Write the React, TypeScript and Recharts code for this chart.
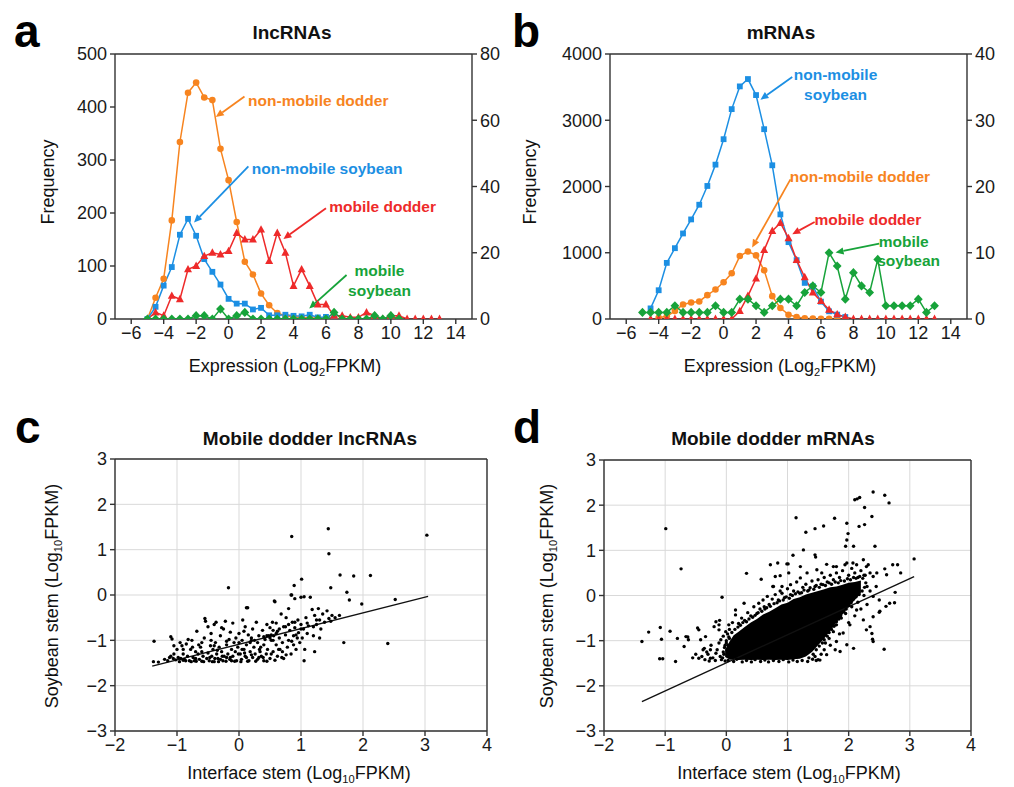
import React from 'react';
import {
  ComposedChart, Line, Scatter, Area, XAxis, YAxis, CartesianGrid, ReferenceLine, ReferenceDot,
} from 'recharts';

const FONT = '"Liberation Sans", Arial, Helvetica, sans-serif';
const ORANGE = '#F7841F';
const BLUE = '#1C8FE3';
const RED = '#EE2A2A';
const GREEN = '#17A33A';
const AXIS = '#333333';

// ---------- Panels a & b : histograms of expression ----------
const xs = [-5, -4.5, -4, -3.5, -3, -2.5, -2, -1.5, -1, -0.5, 0, 0.5, 1, 1.5, 2, 2.5, 3, 3.5, 4, 4.5, 5, 5.5, 6, 6.5, 7, 7.5, 8, 8.5, 9, 9.5, 10, 10.5, 11, 11.5, 12, 12.5, 13];
const xTicksAB = [-6, -4, -2, 0, 2, 4, 6, 8, 10, 12, 14];

// lncRNAs (left axis: non-mobile; right axis: mobile)
const aNonMobileDodder = [0, 40, 76, 186, 334, 427, 446, 418, 413, 321, 262, 183, 108, 84, 48, 26, 11, 6, 4, 3, 2, 2, 1, 2, null, null, null, null, null, null, null, null, null, null, null, null, null];
const aNonMobileSoybean = [0, 23, 63, 98, 159, 189, 157, 113, 89, 65, 38, 29, 29, 18, 21, 7, 7, 8, 6, 5, 8, 3, 4, 2, null, null, null, null, null, null, null, null, null, null, null, null, null];
const aMobileDodder = [0, 2, 1, 7, 6, 15, 16, 19, 20, 19.5, 20.5, 26, 24, 24, 27, 17.5, 26, 20, 10, 15, 10, 4.4, 4.4, 1, 1, 0.5, 0.5, 2, 1, 0, 1, 1, 0, 0, 0, 0, 0];
const aMobileSoybean = [0, 0, 0, 0, 0, 0, 1, 1, 0, 3, 0, 1, 2, 0, 0, 0, 0, 0, 0, 0, 0, 0, 0, 2, 0, 0, 0, 0, 1, 0, 1, 0, null, null, null, null, null];
const aLeftTicks = [0, 100, 200, 300, 400, 500];
const aRightTicks = [0, 20, 40, 60, 80];

// mRNAs
const bNonMobileSoybean = [null, 160, 434, 847, 1069, 1291, 1503, 1725, 2008, 2330, 2714, 3168, 3511, 3622, 3380, 2865, 2320, 1579, 1160, 888, 545, 494, 262, 116, 66, 30, null, null, null, null, null, null, null, null, null, null, null];
const bNonMobileDodder = [null, null, 20, 40, 120, 220, 250, 265, 360, 445, 555, 690, 950, 1020, 960, 735, 345, 165, 65, 30, 10, 5, 3, 3, 2, 2, null, null, null, null, null, null, null, null, null, null, null];
const bMobileDodder = [null, 0, 0, 0, 0, 0, 0, 0, 0, 0, 0, 0, 1.2, 3.5, 6.1, 10.4, 13.3, 14.5, 12.2, 8.9, 6.3, 4, 2.7, 1.4, 0.7, 0.3, 0, 0, 0, 0, 0, 0, 0, 0, 0, 0, 0];
const bMobileSoybean = [1, 1, 1, 1, 2, 1, 1, 1, 1, 2, 1, 1, 3, 3, 2, 1, 2, 3, 3, 2, 4, 5, 4, 10, 8, 3, 7, 5, 4, 9, 2, 2, 2, 2, 3, 1, 2];
const bLeftTicks = [0, 1000, 2000, 3000, 4000];
const bRightTicks = [0, 10, 20, 30, 40];

// annotations (data units, left axis)
const aLabels = [
  { text: 'non-mobile dodder', x: 1.2, y: 412, color: ORANGE, anchor: 'start' },
  { text: 'non-mobile soybean', x: 1.43, y: 284, color: BLUE, anchor: 'start' },
  { text: 'mobile dodder', x: 6.2, y: 212, color: RED, anchor: 'start' },
  { text: 'mobile', x: 9.3, y: 92, color: GREEN, anchor: 'middle' },
  { text: 'soybean', x: 9.3, y: 54, color: GREEN, anchor: 'middle' },
];
const aArrows = [
  { x1: 0.98, y1: 420, x2: -0.79, y2: 381, color: ORANGE },
  { x1: 1.22, y1: 288, x2: -2.13, y2: 182, color: BLUE },
  { x1: 6.0, y1: 209, x2: 3.38, y2: 151, color: RED },
  { x1: 7.27, y1: 83, x2: 4.97, y2: 20, color: GREEN },
];
const bLabels = [
  { text: 'non-mobile', x: 6.9, y: 3687, color: BLUE, anchor: 'middle' },
  { text: 'soybean', x: 6.9, y: 3386, color: BLUE, anchor: 'middle' },
  { text: 'non-mobile dodder', x: 4.08, y: 2157, color: ORANGE, anchor: 'start' },
  { text: 'mobile dodder', x: 5.6, y: 1495, color: RED, anchor: 'start' },
  { text: 'mobile', x: 11.1, y: 1169, color: GREEN, anchor: 'middle' },
  { text: 'soybean', x: 11.4, y: 877, color: GREEN, anchor: 'middle' },
];
const bArrows = [
  { x1: 4.23, y1: 3652, x2: 2.27, y2: 3311, color: BLUE },
  { x1: 4.12, y1: 2107, x2: 1.76, y2: 1079, color: ORANGE },
  { x1: 5.61, y1: 1465, x2: 4.23, y2: 1279, color: RED },
  { x1: 9.59, y1: 1139, x2: 6.9, y2: 1003, color: GREEN },
];

// ---------- Panels c & d : scatter plots ----------
const cdTicksX = [-2, -1, 0, 1, 2, 3, 4];
const cdTicksY = [-3, -2, -1, 0, 1, 2, 3];

const cCloud: [number, number][] = [
  [-1.37, -1.02], [-1.38, -1.47], [-1.3, -1.48], [-1.1, -0.92], [-1.08, -0.97], [-1.05, -1.12], [-1.1, -1.35], [-1.06, -1.4], [-1.02, -1.43], [-1.12, -1.38], [-1.0, -1.2], [-0.98, -1.38],
  [-0.95, -1.05], [-0.92, -1.12], [-0.9, -1.3], [-0.88, -1.42], [-0.85, -1.08], [-0.83, -1.35], [-0.8, -1.45], [-0.78, -1.2], [-0.76, -1.0], [-0.74, -1.38], [-0.72, -1.45], [-0.7, -1.25], [-0.68, -0.8], [-0.66, -1.3], [-0.64, -1.42], [-0.62, -1.15], [-0.6, -1.46], [-0.58, -1.35], [-0.56, -0.95], [-0.55, -0.52], [-0.54, -0.58], [-0.52, -1.4], [-0.5, -1.28], [-0.5, -0.7], [-0.94, -1.4], [-0.86, -1.45], [-0.82, -0.98], [-0.7, -1.4], [-0.65, -1.1], [-0.6, -1.25],
  [-0.48, -1.45], [-0.46, -1.12], [-0.45, -0.85], [-0.44, -1.35], [-0.42, -1.2], [-0.4, -1.47], [-0.38, -1.05], [-0.37, -0.6], [-0.36, -1.3], [-0.34, -1.4], [-0.32, -1.15], [-0.3, -0.9], [-0.28, -1.25], [-0.26, -1.45], [-0.25, -0.75], [-0.24, -1.35], [-0.22, -0.58], [-0.2, -1.1], [-0.18, -1.3], [-0.16, -0.98], [-0.15, -1.42], [-0.14, -0.82], [-0.12, -1.2], [-0.1, -0.62], [-0.1, -1.35], [-0.08, -1.05], [-0.06, -1.25], [-0.05, -0.95], [-0.04, -1.45], [-0.02, -1.15], [0.0, -0.85], [-0.45, -1.0], [-0.35, -1.22], [-0.3, -1.42], [-0.2, -1.38], [-0.12, -1.45], [-0.28, -0.72], [-0.4, -0.65],
  [0.02, -1.3], [0.04, -1.42], [0.05, -1.0], [0.06, -0.55], [0.08, -1.2], [0.1, -0.7], [0.1, -1.35], [0.12, -1.1], [0.14, -0.28], [0.15, -0.88], [0.16, -1.45], [0.18, -1.25], [0.2, -0.95], [0.22, -1.38], [0.22, -0.75], [0.24, -1.15], [0.26, -1.3], [0.28, -0.6], [0.3, -1.05], [0.3, -1.42], [0.32, -0.9], [0.34, -1.25], [0.36, -1.35], [0.38, -0.78], [0.4, -1.1], [0.4, -1.45], [0.42, -0.98], [0.44, -1.3], [0.45, -0.65], [0.46, -1.2], [0.48, -0.9], [0.5, -1.4], [0.5, -0.72], [0.05, -1.2], [0.12, -1.38], [0.25, -1.0], [0.35, -1.15], [0.08, -0.8], [0.18, -1.05], [0.32, -1.38],
  [0.52, -1.0], [0.54, -0.6], [0.55, -1.25], [0.56, -0.9], [0.58, -0.15], [0.6, -1.1], [0.62, -1.35], [0.62, -0.8], [0.65, -0.95], [0.66, -1.2], [0.68, -0.42], [0.7, -1.05], [0.72, -0.7], [0.72, -1.4], [0.75, -0.88], [0.76, -0.5], [0.78, -1.15], [0.8, -0.3], [0.8, -1.0], [0.82, -0.78], [0.84, -1.3], [0.85, 0.0], [0.86, -0.6], [0.88, -0.9], [0.88, -1.1], [0.9, -0.08], [0.9, -0.72], [0.92, -1.2], [0.94, -0.95], [0.95, -0.55], [0.96, -0.83], [0.98, -1.05], [1.0, -0.65], [0.6, -0.62], [0.7, -1.25], [0.85, -1.02], [0.92, -0.88], [0.55, -0.78],
  [1.02, -0.95], [1.04, -0.75], [1.05, -1.45], [1.06, -1.2], [1.08, -0.5], [1.1, -0.85], [1.12, -0.68], [1.15, -0.05], [1.18, -0.32], [1.2, -0.9], [1.22, -1.25], [1.22, -0.45], [1.25, -0.65], [1.28, -0.3], [1.3, -0.55], [1.3, -0.95], [1.32, -0.75], [1.35, -0.42], [1.38, -0.6], [1.42, -0.35], [1.45, -0.52], [1.48, -0.58], [1.5, -0.45], [1.55, -0.5], [1.62, -0.45], [1.0, -0.05],
  [-1.2, -1.42], [-1.15, -1.45], [-0.96, -1.47], [-0.9, -1.44], [-0.77, -1.47], [-0.69, -1.46], [-0.57, -1.47], [-0.47, -1.38], [-0.43, -1.47], [-0.39, -1.4], [-0.33, -1.47], [-0.27, -1.35], [-0.21, -1.46], [-0.14, -1.38], [-0.07, -1.46], [-0.01, -1.3], [0.03, -1.47], [0.09, -1.28], [0.14, -1.46], [0.2, -1.32], [0.27, -1.46], [0.33, -1.2], [0.39, -1.38], [0.45, -1.46], [0.52, -1.3], [0.58, -1.44], [0.64, -1.2], [0.69, -1.38], [0.76, -1.32],
  [-0.6, -1.05], [-0.4, -1.12], [-0.2, -1.02], [0.0, -1.05], [0.2, -1.0], [0.4, -0.92], [0.5, -0.95], [0.55, -1.0], [0.45, -0.9], [0.52, -0.88], [0.6, -0.85], [0.65, -0.75], [0.75, -0.7], [0.8, -0.65], [0.9, -0.6], [1.0, -0.75], [1.1, -0.62], [1.2, -0.7], [1.25, -0.55], [-0.75, -1.15], [-0.9, -1.2], [-1.05, -1.3],
];
const cOutliers: [number, number][] = [
  [0.85, 1.29], [1.44, 1.46], [1.45, 0.91], [3.03, 1.32], [-0.17, 0.16], [1.01, 0.35], [0.89, 0.21], [1.63, 0.44], [1.85, 0.42], [2.12, 0.43], [1.48, 0.16], [1.74, 0.06], [1.78, -0.11], [1.98, -0.2], [2.52, -0.1], [1.69, -1.05], [2.4, -1.07], [0.84, 0.0], [1.05, -0.04], [0.57, -0.13], [0.12, -0.28],
];
const cFit = [{ x: -1.4, y: -1.57 }, { x: 3.05, y: -0.03 }];

// dense core of panel d: [bottom, top] of the solid black region
const dCoreX = [-0.02, 0.06, 0.12, 0.2, 0.3, 0.4, 0.5, 0.6, 0.7, 0.8, 0.9, 1.0, 1.1, 1.2, 1.3, 1.4, 1.5, 1.6, 1.7, 1.8, 1.9, 2.0, 2.1, 2.2];
const dCoreLow = [-1.36, -1.42, -1.42, -1.43, -1.42, -1.43, -1.42, -1.43, -1.42, -1.43, -1.42, -1.43, -1.41, -1.4, -1.35, -1.25, -1.1, -0.95, -0.78, -0.6, -0.42, -0.25, -0.1, 0.05];
const dCoreHigh = [-1.2, -1.0, -0.88, -0.8, -0.7, -0.6, -0.52, -0.42, -0.36, -0.28, -0.2, -0.16, -0.08, -0.04, 0.02, 0.06, 0.1, 0.14, 0.18, 0.2, 0.24, 0.28, 0.3, 0.33];

const dPointsList: [number, number][] = [
  [-0.99, 1.48], [-0.74, 0.59], [-1.38, -1.02], [-1.27, -0.81], [-1.08, -0.71], [-1.09, -1.4], [-1.04, -1.4], [-1.06, -0.97], [-0.92, -0.79], [-0.8, -0.95], [-0.83, -1.46], [-0.63, -0.92], [-0.66, -0.91], [-0.62, -0.98], [-0.69, -1.13], [-0.45, -0.76], [-0.47, -0.72], [-0.42, -0.98], [-0.36, -1.17], [-0.45, -1.39], [-0.26, -1.39], [-0.17, -1.28], [-0.12, -0.76], [-0.11, -0.55], [-0.2, -0.69], [-0.07, -0.04], [0.33, 0.49],
  [1.14, 1.72], [1.3, 1.4], [1.45, 1.48], [1.59, 1.54], [1.77, 1.71], [1.97, 1.6], [2.1, 2.12], [2.14, 2.14], [2.18, 2.17], [2.4, 2.29], [2.59, 2.22], [2.66, 2.05], [2.26, 1.95], [2.38, 1.75], [2.17, 1.53], [2.26, 1.57], [2.43, 1.09], [3.07, 0.81], [2.08, 1.09], [1.95, 1.09], [1.99, 1.37], [1.97, 1.23], [1.09, 0.89], [1.26, 1.01], [1.45, 0.9], [1.46, 0.85], [0.72, 0.68], [0.84, 0.72], [0.99, 0.7], [0.57, 0.36],
  [2.38, -0.84], [2.58, -1.19], [2.08, -1.17], [2.39, -0.97], [2.76, 0.07], [2.75, -0.16], [2.61, -0.24], [2.5, -0.37], [2.29, -0.76], [2.85, 0.5], [2.72, 0.68], [2.8, 0.68], [2.59, 0.59], [2.62, 0.46], [2.67, -0.17], [2.51, -0.35], [2.4, -0.47], [2.4, -1.02], [1.86, -1.24], [1.97, -1.09], [1.78, -1.2],
  [-0.4, -1.35], [-0.35, -1.42], [-0.3, -1.3], [-0.28, -1.45], [-0.22, -1.38], [-0.18, -1.44], [-0.15, -1.2], [-0.1, -1.35], [-0.08, -1.42], [-0.05, -1.25], [-0.02, -1.45], [-0.32, -1.25], [-0.25, -1.1], [-0.12, -1.05], [-0.05, -0.9], [-0.02, -1.1], [-0.38, -1.2], [-0.5, -1.3], [-0.55, -1.38], [-0.34, -0.91], [-0.26, -1.2], [-0.09, -0.98], [-0.01, -0.8], [0.04, -0.65], [-0.17, -0.58], [-0.12, -0.65],
  [0.05, -0.75], [0.1, -0.6], [0.15, -0.32], [0.15, -0.43], [0.2, -0.62], [0.25, -0.5], [0.29, -0.17], [0.3, -0.55], [0.35, -0.38], [0.4, -0.45], [0.45, -0.25], [0.5, -0.4], [0.53, -0.17], [0.55, -0.3], [0.6, -0.1], [0.62, -0.25], [0.67, -0.02], [0.7, -0.2], [0.75, -0.08], [0.77, 0.2], [0.8, 0.02], [0.85, -0.1], [0.88, 0.1], [0.91, 0.05], [0.95, -0.05], [1.0, 0.15], [1.05, 0.24], [1.05, 0.02], [1.1, 0.1], [1.15, 0.3], [1.2, 0.05], [1.21, 0.39], [1.25, 0.18], [1.3, 0.25], [1.32, 0.5], [1.35, 0.12], [1.4, 0.32], [1.45, 0.2], [1.48, 0.57], [1.5, 0.35], [1.55, 0.25], [1.56, 0.5], [1.6, 0.4], [1.64, 0.69], [1.65, 0.3], [1.7, 0.45], [1.75, 0.64], [1.75, 0.35], [1.8, 0.5], [1.8, 0.64], [1.85, 0.4], [1.9, 0.55], [1.94, 0.68], [1.97, 0.72], [2.0, 0.45], [2.05, 0.6], [2.07, 0.72], [2.1, 0.5], [2.13, 0.68], [2.15, 0.4], [2.2, 0.55], [2.24, 0.79], [2.25, 0.45], [2.29, 0.64], [2.32, 0.68], [2.35, 0.5], [2.4, 0.42], [2.46, 0.5], [0.76, 0.2], [0.8, 0.42], [0.88, 0.44], [0.91, 0.2], [1.02, 0.5], [1.21, 0.64], [1.01, 0.7],
  [1.45, -1.35], [1.5, -1.42], [1.53, -1.43], [1.55, -1.3], [1.6, -1.2], [1.62, -1.05], [1.64, -1.31], [1.68, -0.95], [1.7, -1.1], [1.75, -0.8], [1.8, -1.02], [1.8, -0.65], [1.85, -0.85], [1.88, -0.5], [1.91, -0.83], [1.95, -0.4], [2.0, -0.6], [2.02, -0.65], [2.05, -0.25], [2.1, -0.45], [2.13, -0.32], [2.15, -0.15], [2.2, -0.3], [2.24, -0.54], [2.25, 0.0], [2.3, -0.2], [2.35, -0.69], [2.35, 0.1], [2.4, -0.02], [2.45, 0.2], [2.5, -0.1], [2.3, 0.2],
  [0.03, -1.44], [0.12, -1.46], [0.17, -1.41], [0.26, -1.47], [0.33, -1.44], [0.41, -1.47], [0.47, -1.42], [0.56, -1.46], [0.63, -1.43], [0.69, -1.47], [0.77, -1.44], [0.86, -1.46], [0.93, -1.42], [1.02, -1.47], [1.09, -1.43], [1.16, -1.46], [1.24, -1.44], [1.33, -1.46], [1.41, -1.41], [1.47, -1.44], [0.0, -1.0], [-0.03, -1.15], [0.02, -0.85], [0.05, -0.95],
  [0.0, -1.05], [0.04, -0.92], [0.09, -0.82], [0.14, -0.75], [0.19, -0.7], [0.23, -0.66], [0.27, -0.6], [0.33, -0.58], [0.37, -0.52], [0.43, -0.48], [0.47, -0.44], [0.52, -0.38], [0.58, -0.35], [0.63, -0.3], [0.66, -0.27], [0.72, -0.24], [0.78, -0.18], [0.83, -0.16], [0.87, -0.12], [0.93, -0.1], [0.98, -0.03], [1.03, -0.06], [1.08, 0.0], [1.13, 0.04], [1.17, 0.08], [1.23, 0.06], [1.27, 0.12], [1.33, 0.1], [1.37, 0.17], [1.43, 0.14], [1.47, 0.22], [1.52, 0.18], [1.58, 0.24], [1.62, 0.22], [1.68, 0.28], [1.72, 0.25], [1.78, 0.3], [1.83, 0.28], [1.87, 0.33], [1.93, 0.32], [1.98, 0.37], [2.03, 0.35], [2.08, 0.4], [2.12, 0.38], [2.18, 0.42], [2.23, 0.38], [2.27, 0.45],
  [1.35, -1.38], [1.42, -1.3], [1.47, -1.2], [1.52, -1.12], [1.57, -1.05], [1.6, -0.98], [1.65, -0.9], [1.68, -0.82], [1.72, -0.75], [1.76, -0.68], [1.8, -0.58], [1.84, -0.52], [1.87, -0.45], [1.92, -0.36], [1.96, -0.3], [2.0, -0.22], [2.04, -0.16], [2.08, -0.08], [2.12, -0.03], [2.17, 0.02], [2.22, 0.1], [2.26, 0.18], [2.28, 0.28], [-0.04, -1.3], [-0.06, -1.38], [0.01, -1.2], [0.03, -1.1],
];
const dFit = [{ x: -1.38, y: -2.35 }, { x: 3.07, y: 0.42 }];

// ---------- tables built from the arrays ----------
const tableA = xs.map((x, i) => ({ x, nmd: aNonMobileDodder[i], nms: aNonMobileSoybean[i], md: aMobileDodder[i], ms: aMobileSoybean[i] }));
const tableB = xs.map((x, i) => ({ x, nmd: bNonMobileDodder[i], nms: bNonMobileSoybean[i], md: bMobileDodder[i], ms: bMobileSoybean[i] }));
const cPoints = [...cCloud, ...cOutliers].map(([x, y]) => ({ x, y }));
const dPoints = dPointsList.map(([x, y]) => ({ x, y }));
const dCore = dCoreX.map((x, i) => ({ x, r: [dCoreLow[i], dCoreHigh[i]] }));

// ---------- helpers ----------
const fmt = (v: number) => (v < 0 ? '\u2212' + Math.abs(v) : String(v));
const tickStyle = { fontSize: 18, fill: '#1a1a1a', fontFamily: FONT };

const marker = (kind: string, color: string) => (p: any) => {
  const { cx, cy, index } = p;
  if (cx == null || cy == null || Number.isNaN(cy)) return <g key={`m${index}`} />;
  if (kind === 'circle') return <circle key={`m${index}`} cx={cx} cy={cy} r={3.3} fill={color} />;
  if (kind === 'square') return <rect key={`m${index}`} x={cx - 2.9} y={cy - 2.9} width={5.8} height={5.8} fill={color} />;
  if (kind === 'triangle') return <polygon key={`m${index}`} points={`${cx},${cy - 4.4} ${cx + 4},${cy + 3} ${cx - 4},${cy + 3}`} fill={color} />;
  return <polygon key={`m${index}`} points={`${cx},${cy - 4.6} ${cx + 4.4},${cy} ${cx},${cy + 4.6} ${cx - 4.4},${cy}`} fill={color} />;
};

const arrowShape = (color: string) => (p: any) => {
  const { x1, y1, x2, y2 } = p;
  const ang = Math.atan2(y2 - y1, x2 - x1);
  const L = 8;
  const W = 3.6;
  const bx = x2 - L * Math.cos(ang);
  const by = y2 - L * Math.sin(ang);
  const px = -Math.sin(ang) * W;
  const py = Math.cos(ang) * W;
  return (
    <g>
      <line x1={x1} y1={y1} x2={bx} y2={by} stroke={color} strokeWidth={1.8} />
      <polygon points={`${x2},${y2} ${bx + px},${by + py} ${bx - px},${by - py}`} fill={color} />
    </g>
  );
};

const textShape = (text: string, color: string, anchor: string) => (p: any) => (
  <text x={p.cx} y={p.cy} textAnchor={anchor as any} dominantBaseline="central" fill={color} fontSize={15.5} fontWeight="bold" fontFamily={FONT}>
    {text}
  </text>
);

const dotShape = (p: any) => (p.cx == null ? <g /> : <circle cx={p.cx} cy={p.cy} r={1.7} fill="#000" />);

const Sub = ({ children }: { children: React.ReactNode }) => (
  <span style={{ fontSize: '0.62em', position: 'relative', top: '0.38em' }}>{children}</span>
);

const abs = (left: number, top: number, extra: React.CSSProperties = {}): React.CSSProperties => ({ position: 'absolute', left, top, ...extra });

const CenterText = ({ cx, cy, size, bold, children, rotate }: any) => (
  <div
    style={{
      position: 'absolute', left: cx, top: cy, transform: `translate(-50%, -50%)${rotate ? ' rotate(-90deg)' : ''}`,
      whiteSpace: 'nowrap', fontSize: size, fontWeight: bold ? 'bold' : 'normal', lineHeight: 1, color: '#111', fontFamily: FONT,
    }}
  >
    {children}
  </div>
);

const Letter = ({ left, baseline, children }: any) => (
  <div style={abs(left, baseline - 39, { fontSize: 46, fontWeight: 'bold', lineHeight: '46px', fontFamily: FONT, color: '#000' })}>{children}</div>
);

const HistPanel = ({ data, leftDomain, leftTicks, rightDomain, rightTicks, labels, arrows }: any) => (
  <ComposedChart width={472} height={305} data={data} margin={{ top: 10, right: 0, bottom: 0, left: 0 }}>
    <XAxis type="number" dataKey="x" domain={[-7, 15]} ticks={xTicksAB} interval={0} tickFormatter={fmt} height={30}
      tick={tickStyle} tickSize={5} tickMargin={2} stroke={AXIS} strokeWidth={1.4} allowDataOverflow />
    <YAxis yAxisId="l" domain={leftDomain} ticks={leftTicks} interval={0} width={65} tick={tickStyle}
      tickSize={5} tickMargin={3} stroke={AXIS} strokeWidth={1.4} allowDataOverflow />
    <YAxis yAxisId="r" orientation="right" domain={rightDomain} ticks={rightTicks} interval={0} width={50}
      tick={tickStyle} tickSize={5} tickMargin={3} stroke={AXIS} strokeWidth={1.4} allowDataOverflow />
    <ReferenceLine yAxisId="l" y={leftDomain[1]} stroke={AXIS} strokeWidth={1.4} />
    <Line yAxisId="l" dataKey="nmd" stroke={ORANGE} strokeWidth={1.5} dot={marker('circle', ORANGE)} activeDot={false} isAnimationActive={false} />
    <Line yAxisId="l" dataKey="nms" stroke={BLUE} strokeWidth={1.5} dot={marker('square', BLUE)} activeDot={false} isAnimationActive={false} />
    <Line yAxisId="r" dataKey="md" stroke={RED} strokeWidth={1.5} dot={marker('triangle', RED)} activeDot={false} isAnimationActive={false} />
    <Line yAxisId="r" dataKey="ms" stroke={GREEN} strokeWidth={1.5} dot={marker('diamond', GREEN)} activeDot={false} isAnimationActive={false} />
    {arrows.map((a: any, i: number) => (
      <ReferenceLine key={`ar${i}`} yAxisId="l" segment={[{ x: a.x1, y: a.y1 }, { x: a.x2, y: a.y2 }]} shape={arrowShape(a.color)} />
    ))}
    {labels.map((l: any, i: number) => (
      <ReferenceDot key={`lb${i}`} yAxisId="l" x={l.x} y={l.y} r={1} shape={textShape(l.text, l.color, l.anchor)} />
    ))}
  </ComposedChart>
);

const ScatterPanel = ({ width, height, points, fit, core }: any) => (
  <ComposedChart width={width} height={height} margin={{ top: 10, right: 15, bottom: 0, left: 0 }}>
    <CartesianGrid yAxisId="l" stroke="#d9d9d9" strokeWidth={1} />
    <XAxis type="number" dataKey="x" domain={[-2, 4]} ticks={cdTicksX} interval={0} tickFormatter={fmt} height={30}
      tick={tickStyle} tickSize={5} tickMargin={2} stroke={AXIS} strokeWidth={1.4} allowDataOverflow />
    <YAxis yAxisId="l" type="number" domain={[-3, 3]} ticks={cdTicksY} interval={0} tickFormatter={fmt} width={65}
      tick={tickStyle} tickSize={5} tickMargin={3} stroke={AXIS} strokeWidth={1.4} allowDataOverflow />
    <ReferenceLine yAxisId="l" y={3} stroke={AXIS} strokeWidth={1.4} />
    <ReferenceLine yAxisId="l" x={4} stroke={AXIS} strokeWidth={1.4} />
    {core ? (
      <Area yAxisId="l" data={core} dataKey="r" type="linear" stroke="none" fill="#000" fillOpacity={1}
        dot={false} activeDot={false} isAnimationActive={false} />
    ) : null}
    <Scatter yAxisId="l" data={points} dataKey="y" shape={dotShape} isAnimationActive={false} />
    <Line yAxisId="l" data={fit} dataKey="y" type="linear" stroke="#111" strokeWidth={1.4} dot={false} activeDot={false} isAnimationActive={false} />
  </ComposedChart>
);

export default function App() {
  return (
    <div style={{ position: 'absolute', left: 0, top: 0, width: 1014, height: 787, background: '#fff', fontFamily: FONT, overflow: 'hidden' }}>
      <Letter left={14} baseline={46.5}>a</Letter>
      <Letter left={512} baseline={46.5}>b</Letter>
      <Letter left={15} baseline={443}>c</Letter>
      <Letter left={513} baseline={443}>d</Letter>

      <CenterText cx={292} cy={32} size={19} bold>lncRNAs</CenterText>
      <CenterText cx={781} cy={32} size={19} bold>mRNAs</CenterText>
      <CenterText cx={310} cy={438} size={19} bold>Mobile dodder lncRNAs</CenterText>
      <CenterText cx={773} cy={438} size={19} bold>Mobile dodder mRNAs</CenterText>

      <div style={abs(50, 44)}>
        <HistPanel data={tableA} leftDomain={[0, 500]} leftTicks={aLeftTicks} rightDomain={[0, 80]} rightTicks={aRightTicks} labels={aLabels} arrows={aArrows} />
      </div>
      <div style={abs(545, 44)}>
        <HistPanel data={tableB} leftDomain={[0, 4000]} leftTicks={bLeftTicks} rightDomain={[0, 40]} rightTicks={bRightTicks} labels={bLabels} arrows={bArrows} />
      </div>
      <div style={abs(50, 449)}>
        <ScatterPanel width={452} height={312} points={cPoints} fit={cFit} />
      </div>
      <div style={abs(539, 450)}>
        <ScatterPanel width={447} height={311} points={dPoints} fit={dFit} core={dCore} />
      </div>

      <CenterText cx={48} cy={182} size={18} rotate>Frequency</CenterText>
      <CenterText cx={530} cy={182} size={18} rotate>Frequency</CenterText>
      <CenterText cx={285} cy={366} size={18}>Expression (Log<Sub>2</Sub>FPKM)</CenterText>
      <CenterText cx={780} cy={366} size={18}>Expression (Log<Sub>2</Sub>FPKM)</CenterText>
      <CenterText cx={52} cy={596} size={18} rotate>Soybean stem (Log<Sub>10</Sub>FPKM)</CenterText>
      <CenterText cx={547} cy={596} size={18} rotate>Soybean stem (Log<Sub>10</Sub>FPKM)</CenterText>
      <CenterText cx={299} cy={773} size={18}>Interface stem (Log<Sub>10</Sub>FPKM)</CenterText>
      <CenterText cx={789} cy={773} size={18}>Interface stem (Log<Sub>10</Sub>FPKM)</CenterText>
    </div>
  );
}
